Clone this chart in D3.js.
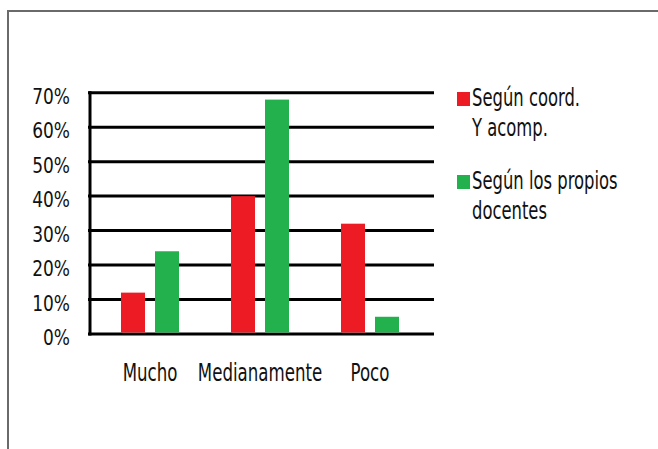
<!DOCTYPE html>
<html lang="es">
    <head>
        <meta charset="UTF-8" />
        <title>Gráfico de barras</title>
        <script src="https://d3js.org/d3.v7.min.js"></script>
        <style>
            body { margin: 0; background: #fff; }
            text { font-family: "DejaVu Sans Condensed", "Liberation Sans Narrow", sans-serif; fill: #111; }
        </style>
    </head>
    <body>
        <svg width="658" height="449"></svg>

        <script>
            // Datos
            const categories = ["Mucho", "Medianamente", "Poco"];
            const seriesNames = ["Según coord. Y acomp.", "Según los propios docentes"];
            const legendLines = [["Según coord.", "Y acomp."], ["Según los propios", "docentes"]];
            const coordValues = [12, 40, 32];
            const docentesValues = [24, 68, 5];
            const yTicks = [0, 10, 20, 30, 40, 50, 60, 70];
            const colors = ["#ED1C24", "#22B14C"];

            const svg = d3.select("svg");

            // la fuente original es muy estrecha: comprimimos en horizontal
            const narrow = (x, yy, s) => `translate(${x},${yy}) scale(${s},1)`;

            // marco
            svg.append("rect")
                .attr("x", 8).attr("y", 11)
                .attr("width", 700).attr("height", 500)
                .attr("fill", "none")
                .attr("stroke", "#6a6a6a")
                .attr("stroke-width", 2);

            const plotLeft = 89, plotRight = 434, plotTop = 92.7, plotBottom = 334;

            const y = d3.scaleLinear().domain([0, 70]).range([plotBottom, plotTop]);
            const x0 = d3.scaleBand().domain(categories).range([95, 425]);
            const x1 = d3.scaleBand()
                .domain(seriesNames)
                .range([x0.bandwidth() / 2 - 29, x0.bandwidth() / 2 + 29])
                .paddingInner(0.294);

            // líneas de cuadrícula
            svg.append("g")
                .selectAll("line")
                .data(yTicks)
                .join("line")
                .attr("x1", plotLeft - 1)
                .attr("x2", plotRight)
                .attr("y1", (d) => y(d))
                .attr("y2", (d) => y(d))
                .attr("stroke", "#000")
                .attr("stroke-width", 3);

            // eje vertical
            svg.append("line")
                .attr("x1", plotLeft + 1).attr("x2", plotLeft + 1)
                .attr("y1", y(70) - 1.5).attr("y2", y(0) + 1.5)
                .attr("stroke", "#000")
                .attr("stroke-width", 3);

            // etiquetas del eje Y
            svg.append("g")
                .selectAll("text")
                .data(yTicks)
                .join("text")
                .attr("transform", (d) => narrow(70, y(d) + 11, 0.86))
                .attr("text-anchor", "end")
                .attr("font-size", 22)
                .text((d) => d + "%");

            // barras
            const rows = categories.map((c, i) => ({
                cat: c,
                vals: [coordValues[i], docentesValues[i]],
            }));

            const groups = svg.append("g")
                .selectAll("g")
                .data(rows)
                .join("g")
                .attr("transform", (d) => `translate(${x0(d.cat)},0)`);

            groups.selectAll("rect")
                .data((d) => d.vals.map((v, j) => ({ s: seriesNames[j], v, j })))
                .join("rect")
                .attr("x", (d) => x1(d.s))
                .attr("width", x1.bandwidth())
                .attr("y", (d) => y(d.v))
                .attr("height", (d) => y(0) - y(d.v) - 1.5)
                .attr("fill", (d) => colors[d.j]);

            // etiquetas del eje X
            svg.append("g")
                .selectAll("text")
                .data(categories)
                .join("text")
                .attr("transform", (d) => narrow(x0(d) + x0.bandwidth() / 2, 381, 0.77))
                .attr("text-anchor", "middle")
                .attr("font-size", 24)
                .text((d) => d);

            // leyenda
            const legend = svg.append("g")
                .selectAll("g")
                .data(legendLines)
                .join("g")
                .attr("transform", (d, i) => `translate(457,${106 + i * 83})`);

            legend.append("rect")
                .attr("x", 0).attr("y", -14)
                .attr("width", 13).attr("height", 14)
                .attr("fill", (d, i) => colors[i]);

            legend.each(function (lines) {
                d3.select(this).selectAll("text")
                    .data(lines)
                    .join("text")
                    .attr("transform", (d, k) => narrow(15, k * 30, 0.76))
                    .attr("font-size", 24)
                    .text((d) => d);
            });
        </script>
    </body>
</html>
